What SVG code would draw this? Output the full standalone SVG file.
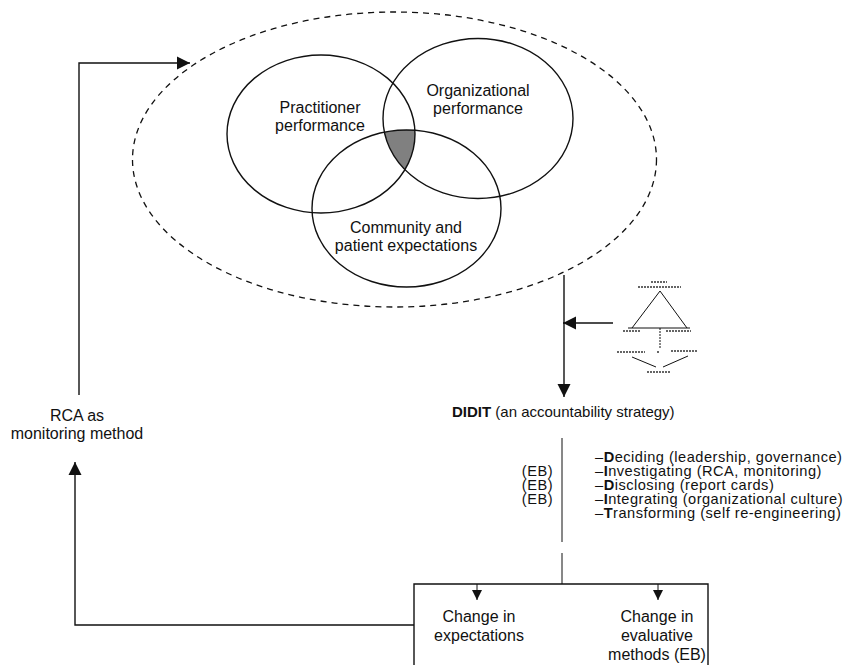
<svg xmlns="http://www.w3.org/2000/svg" width="849" height="665" viewBox="0 0 849 665">
<style>
text{font-family:"Liberation Sans",Arial,sans-serif;font-size:16px;fill:#111}
.c{text-anchor:middle}
.r{text-anchor:end}
.s{font-size:15px}
.li{font-size:14.6px;letter-spacing:0.5px}
.ln{fill:none;stroke:#111;stroke-width:1.4}
.thin{fill:none;stroke:#111;stroke-width:1}
.blob{stroke:#333;stroke-width:1.6;stroke-dasharray:2 1}
</style>
<defs>
<marker id="ah" viewBox="0 0 10 10" refX="10" refY="5" markerWidth="10" markerHeight="10" markerUnits="userSpaceOnUse" orient="auto"><path d="M0,0 L10,5 L0,10 z" fill="#111"/></marker>
<marker id="ahL" viewBox="0 0 10 10" refX="10" refY="5" markerWidth="13" markerHeight="14" markerUnits="userSpaceOnUse" orient="auto"><path d="M0,0 L10,5 L0,10 z" fill="#111"/></marker>
<clipPath id="cp2"><ellipse cx="478" cy="118.5" rx="95" ry="80"/></clipPath>
<clipPath id="cp3"><ellipse cx="406.5" cy="208.5" rx="94.5" ry="78.5"/></clipPath>
</defs>

<g id="context">
<ellipse cx="394.5" cy="159.5" rx="262" ry="147.5" fill="none" stroke="#111" stroke-width="1.3" stroke-dasharray="6 5"/>
</g>

<g id="overlap">
<g clip-path="url(#cp2)"><ellipse cx="321" cy="134" rx="94" ry="79" fill="#808080" clip-path="url(#cp3)"/></g>
</g>

<g id="practitioner">
<ellipse class="ln" cx="321" cy="134" rx="94" ry="79"/>
<text class="c" x="320" y="113">Practitioner</text>
<text class="c" x="320" y="131">performance</text>
</g>

<g id="organizational">
<ellipse class="ln" cx="478" cy="118.5" rx="95" ry="80"/>
<text class="c" x="478" y="96">Organizational</text>
<text class="c" x="478" y="114">performance</text>
</g>

<g id="community">
<ellipse class="ln" cx="406.5" cy="208.5" rx="94.5" ry="78.5"/>
<text class="c" x="406" y="233">Community and</text>
<text class="c" x="406" y="251">patient expectations</text>
</g>

<g id="rca">
<text class="c" x="77" y="421">RCA as</text>
<text class="c" x="77" y="439">monitoring method</text>
</g>

<g id="triangle-figure">
<path class="thin" d="M660,291 L632,328 M660,291 L687,328"/>
<path class="thin" d="M628,328 L690,328"/>
<path class="thin" d="M660,328 L660,348" stroke-dasharray="2 1"/>
<path class="thin" d="M632,357 L656,367 M663,367 L688,356"/>
<line class="blob" x1="651" y1="282" x2="667" y2="282"/>
<line class="blob" x1="638" y1="287" x2="681" y2="287"/>
<line class="blob" x1="623" y1="331" x2="641" y2="331"/>
<line class="blob" x1="666" y1="331" x2="691" y2="331"/>
<line class="blob" x1="617" y1="352" x2="645" y2="352"/>
<line class="blob" x1="657" y1="352" x2="659" y2="352"/>
<line class="blob" x1="671" y1="351" x2="697" y2="351"/>
<line class="blob" x1="647" y1="372" x2="670" y2="372"/>
</g>

<g id="didit">
<text class="s" x="452" y="417"><tspan font-weight="bold">DIDIT</tspan> (an accountability strategy)</text>
<text class="li" x="595" y="462">–<tspan font-weight="bold">D</tspan>eciding (leadership, governance)</text>
<text class="li" x="595" y="476">–<tspan font-weight="bold">I</tspan>nvestigating (RCA, monitoring)</text>
<text class="li" x="595" y="490">–<tspan font-weight="bold">D</tspan>isclosing (report cards)</text>
<text class="li" x="595" y="504">–<tspan font-weight="bold">I</tspan>ntegrating (organizational culture)</text>
<text class="li" x="595" y="518">–<tspan font-weight="bold">T</tspan>ransforming (self re-engineering)</text>
<text class="r li" x="553" y="476">(EB)</text>
<text class="r li" x="553" y="490">(EB)</text>
<text class="r li" x="553" y="504">(EB)</text>
</g>

<g id="outcomes">
<path class="ln" d="M414,665 L414,584 L708,584 L708,665"/>
<text class="c" x="479" y="622">Change in</text>
<text class="c" x="479" y="641">expectations</text>
<text class="c" x="657" y="622">Change in</text>
<text class="c" x="657" y="641">evaluative</text>
<text class="c" x="657" y="660">methods (EB)</text>
</g>

<g id="connectors">
<path class="ln" d="M79,395 L79,63 L190,63" marker-end="url(#ahL)"/>
<path class="ln" d="M414,625 L75,625 L75,462" marker-end="url(#ahL)"/>
<path class="ln" d="M564,275 L564,397" marker-end="url(#ahL)"/>
<path class="ln" d="M613,323 L563,323" marker-end="url(#ahL)"/>
<path class="thin" d="M562,438 L562,542 M562,553 L562,584"/>
<path class="thin" d="M477,584 L477,600" marker-end="url(#ah)"/>
<path class="thin" d="M658,584 L658,600" marker-end="url(#ah)"/>
</g>
</svg>
